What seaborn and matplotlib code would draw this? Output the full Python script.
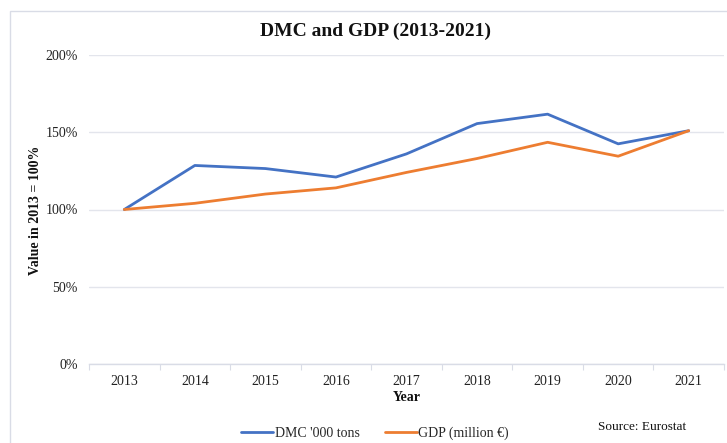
import matplotlib
matplotlib.use("Agg")
import matplotlib.pyplot as plt
from matplotlib.patches import Rectangle
from matplotlib.ticker import FixedLocator, FuncFormatter
import seaborn as sns
import pandas as pd

years = [2013, 2014, 2015, 2016, 2017, 2018, 2019, 2020, 2021]
dmc_index = [100, 128.5, 126.5, 121, 136, 155.6, 161.7, 142.5, 151]
gdp_index = [100, 104, 110, 114, 124, 133, 143.5, 134.5, 151]
series_names = ["DMC '000 tons", "GDP (million €)"]
y_ticks = [0, 50, 100, 150, 200]

df = pd.DataFrame({
    "Year": years * 2,
    "Value": dmc_index + gdp_index,
    "Series": [series_names[0]] * len(years) + [series_names[1]] * len(years),
})

sns.set_theme(style="white")
plt.rcParams["font.family"] = ["Liberation Serif", "DejaVu Serif"]

W, H = 727, 443
fig = plt.figure(figsize=(W / 100, H / 100), dpi=100)
ax = fig.add_axes([89 / W, (H - 364) / H, (724 - 89) / W, (364 - 55) / H])

# chart frame
fig.patches.append(Rectangle((10 / W, -0.05), 1.0, (H - 11) / H + 0.05,
                             transform=fig.transFigure, fill=False,
                             edgecolor="#D9DCE6", linewidth=1.0, zorder=0))

palette = {series_names[0]: "#4472C4", series_names[1]: "#ED7D31"}
sns.lineplot(data=df, x="Year", y="Value", hue="Series", palette=palette,
             linewidth=2.0, ax=ax, legend=False)

ax.set_xlim(years[0] - 0.5, years[-1] + 0.5)
ax.set_ylim(0, 200)
ax.yaxis.set_major_locator(FixedLocator(y_ticks))
ax.yaxis.set_major_formatter(FuncFormatter(lambda v, p: f"{int(v)}%"))
ax.set_xticks(years)
ax.set_xticklabels([str(y) for y in years])
ax.set_xticks([y + 0.5 for y in [years[0] - 1] + years], minor=True)
ax.tick_params(axis="x", which="major", length=0, pad=8, labelsize=10, colors="#222222")
ax.tick_params(axis="x", which="minor", length=4, width=0.8, color="#D9DCE6", bottom=True)
ax.tick_params(axis="y", length=0, pad=8, labelsize=10, colors="#222222")

ax.grid(axis="y", color="#E3E5EC", linewidth=1.0)
ax.grid(axis="x", visible=False)
for s in ["top", "right", "left"]:
    ax.spines[s].set_visible(False)
ax.spines["bottom"].set_color("#D9DCE6")
ax.spines["bottom"].set_linewidth(1.0)

ax.set_xlabel("Year", fontsize=10, fontweight="bold", labelpad=2, color="#111111")
ax.set_ylabel("Value in 2013 = 100%", fontsize=10, fontweight="bold", color="#111111")
ax.yaxis.set_label_coords(42 / W, (H - 210) / H, transform=fig.transFigure)

fig.text(375 / W, (H - 31) / H, "DMC and GDP (2013-2021)", ha="center", va="center",
         fontsize=14, fontweight="bold", color="#111111")

handles = [plt.Line2D([], [], color=palette[n], linewidth=2.0) for n in series_names]
fig.legend(handles, series_names, loc="center", bbox_to_anchor=(375 / W, (H - 433) / H),
           ncol=2, frameon=False, fontsize=10, handlelength=2.3, handletextpad=0.1,
           columnspacing=1.8)

fig.text(598 / W, (H - 427) / H, "Source: Eurostat", ha="left", va="center",
         fontsize=9.5, color="#111111")

fig.savefig("out.png", dpi=100)
